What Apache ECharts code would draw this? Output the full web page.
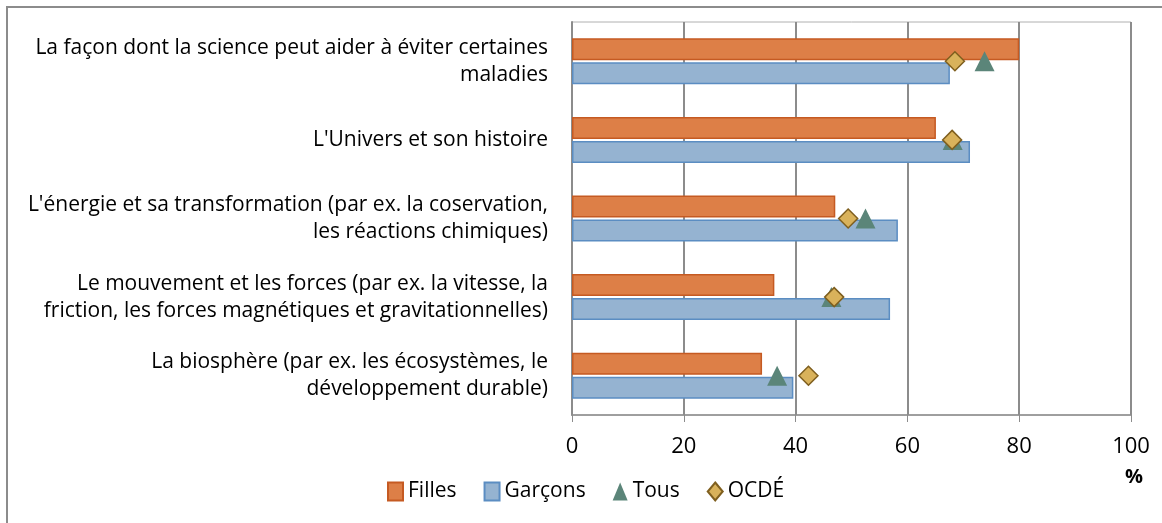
<!DOCTYPE html>
<html><head><meta charset="utf-8">
<script src="https://cdn.jsdelivr.net/npm/echarts@6/dist/echarts.min.js"></script>
<style>
html,body{margin:0;padding:0;background:#fff;overflow:hidden}
#frame{position:absolute;left:6px;top:6px;width:1170px;height:540px;border:2px solid #8c8c8c;box-sizing:border-box}
#c{position:absolute;left:0;top:0;width:1162px;height:523px}
</style></head>
<body><div id="frame"></div><div id="c"></div>
<script>
const categories = [
  "La façon dont la science peut aider à éviter certaines\nmaladies",
  "L'Univers et son histoire",
  "L'énergie et sa transformation (par ex. la coservation,\nles réactions chimiques)",
  "Le mouvement et les forces (par ex. la vitesse, la\nfriction, les forces magnétiques et gravitationnelles)",
  "La biosphère (par ex. les écosystèmes, le\ndéveloppement durable)"
];
const filles  = [80.0, 65.1, 47.1, 36.2, 34.0];
const garcons = [67.6, 71.2, 58.3, 56.9, 39.6];
const tous    = [73.8, 68.1, 52.5, 46.4, 36.7];
const ocde    = [68.5, 68.0, 49.4, 46.9, 42.3];
const xTicks = [0, 20, 40, 60, 80, 100];

const FONT = '"Open Sans"';
const chart = echarts.init(document.getElementById('c'), null, {renderer:'canvas'});
chart.setOption({
  animation:false,
  textStyle:{fontFamily:FONT},
  grid:{left:572, right:31, top:22, bottom:108, show:true, borderColor:'#b0b0b0', borderWidth:1},
  xAxis:{type:'value', min:xTicks[0], max:xTicks[xTicks.length-1], interval:20,
    axisLine:{show:true, lineStyle:{color:'#8c8c8c', width:1.5}},
    axisTick:{show:true, length:7, lineStyle:{color:'#8c8c8c'}},
    axisLabel:{color:'#000', fontSize:22, fontFamily:FONT, margin:21},
    splitLine:{show:true, lineStyle:{color:'#8c8c8c', width:2}}},
  yAxis:{type:'category', data:categories, inverse:true,
    axisLine:{show:true, lineStyle:{color:'#8c8c8c', width:2}},
    axisTick:{show:false},
    axisLabel:{color:'#000', fontSize:21, fontFamily:FONT, margin:24, lineHeight:27, align:'right'}},
  legend:{left:382, top:476, itemWidth:15, itemHeight:18, itemGap:27,
    textStyle:{fontSize:21, fontFamily:FONT, color:'#000'},
    data:[{name:'Filles',icon:'rect'},{name:'Garçons',icon:'rect'},{name:'Tous',icon:'triangle'},{name:'OCDÉ',icon:'diamond'}]},
  graphic:[{type:'text', left:1125, top:467, style:{text:'%', font:'bold 20px '+FONT, fill:'#000'}}],
  series:[
    {name:'Filles', type:'bar', data:filles, barWidth:22, barGap:'9%',
      itemStyle:{color:'#DD7F47', borderColor:'#C55A22', borderWidth:1.5}},
    {name:'Garçons', type:'bar', data:garcons, barWidth:22,
      itemStyle:{color:'#95B3D1', borderColor:'#5B8DC2', borderWidth:1.5}},
    {name:'Tous', type:'scatter', data:tous, symbol:'triangle', symbolSize:[20,20], z:5,
      itemStyle:{color:'#5B8579', opacity:1}},
    {name:'OCDÉ', type:'scatter', data:ocde, symbol:'diamond', symbolSize:[19,19], z:6,
      itemStyle:{color:'#D9B25B', borderColor:'#7F5F1F', borderWidth:1.5, opacity:1}}
  ]
});
</script></body></html>
